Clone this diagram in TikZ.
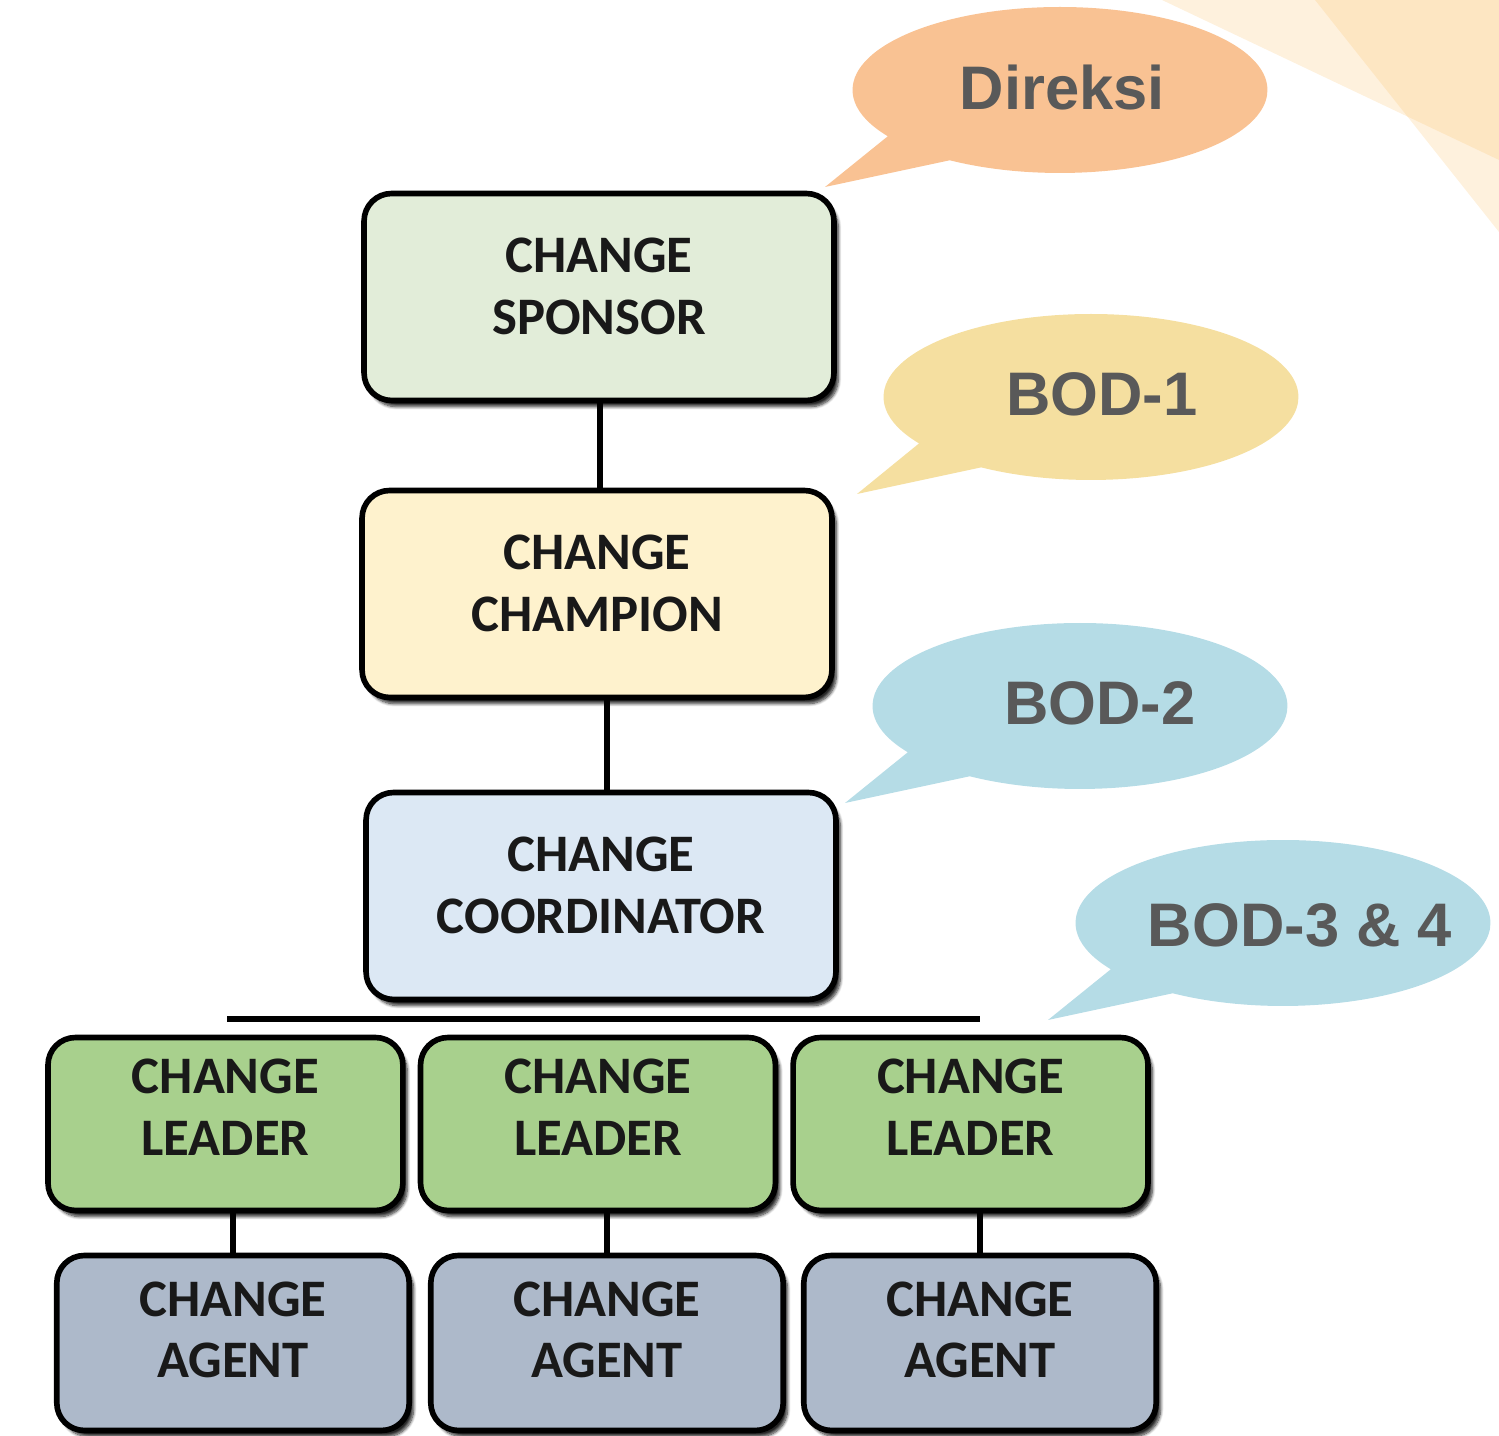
\documentclass[tikz,border=0pt]{standalone}
\usepackage{fontspec}
\usepackage{xcolor}
\usepackage{tikz}
\usetikzlibrary{positioning,shapes.callouts,shadows.blur}

\newfontfamily\boxfont{Carlito}
\newfontfamily\bubfont{Liberation Sans}

\definecolor{sponsorfill}{HTML}{E2EDD9}
\definecolor{championfill}{HTML}{FEF2CD}
\definecolor{coordfill}{HTML}{DCE8F4}
\definecolor{leaderfill}{HTML}{A8D08D}
\definecolor{agentfill}{HTML}{ADB9CA}
\definecolor{peach}{HTML}{F9C293}
\definecolor{sand}{HTML}{F5DFA0}
\definecolor{sky}{HTML}{B5DCE6}
\definecolor{bubtext}{HTML}{595959}
\definecolor{sunray}{RGB}{250,190,100}

\begin{document}
\begin{tikzpicture}[
  x=0.02cm, y=0.02cm,
  box/.style={
     rectangle, rounded corners=0.55cm,
     draw=black, line width=3.2pt,
     font=\boxfont\bfseries\fontsize{30}{35}\selectfont,
     text=black!90, align=center, inner sep=0pt,
     blur shadow={shadow xshift=2.5pt, shadow yshift=-3.5pt,
                  shadow blur steps=8, shadow opacity=85}},
  bigbox/.style={box, minimum width=9.4cm, minimum height=4.14cm,
     text depth=0.44cm},
  leadbox/.style={box, fill=leaderfill, minimum width=7.1cm,
     minimum height=3.46cm, text depth=0.68cm},
  agentbox/.style={box, fill=agentfill, minimum width=7.05cm,
     minimum height=3.5cm, text depth=0.54cm},
  bubble/.style={
     ellipse callout, inner sep=0pt,
     minimum width=8.3cm, minimum height=3.32cm,
     callout pointer arc=24},
  bubtxt/.style={text=bubtext, inner sep=0pt,
     font=\bubfont\bfseries\fontsize{35}{40}\selectfont},
  link/.style={line width=3pt},
  node distance=1.76cm and 0.24cm]
\useasboundingbox (0,0) rectangle (1499,1436);
% rays in the corner
\fill[sunray, opacity=0.22] (1162,1436) -- (1499,1436) -- (1499,1276) -- cycle;
\fill[sunray, opacity=0.22] (1315,1436) -- (1499,1436) -- (1499,1204) -- cycle;
% main column
\node[bigbox, fill=sponsorfill] (sponsor) at (599,1139) {CHANGE\\SPONSOR};
\node[bigbox, fill=championfill] (champion) at (597,842) {CHANGE\\CHAMPION};
\node[bigbox, fill=coordfill] (coord) at (601,540) {CHANGE\\COORDINATOR};
% leaders
\node[leadbox] (lead2) at (598,312) {CHANGE\\LEADER};
\node[leadbox,left=of lead2]  (lead1) {CHANGE\\LEADER};
\node[leadbox,right=of lead2] (lead3) {CHANGE\\LEADER};
% agents
\node[agentbox] (agent1) at (233,93) {CHANGE\\AGENT};
\node[agentbox] (agent2) at (607,93) {CHANGE\\AGENT};
\node[agentbox] (agent3) at (980,93) {CHANGE\\AGENT};
% bus line
\coordinate (busL) at (227,417);
\coordinate (busR) at (980,417);
% links
\draw[link] (sponsor.south -| 600,0) -- (champion.north -| 600,0);
\draw[link] (champion.south -| 607,0) -- (coord.north -| 607,0);
\draw[link] (busL) -- (busR);
\draw[link] (agent1.north |- lead1.south) -- (agent1.north);
\draw[link] (agent2.north |- lead2.south) -- (agent2.north);
\draw[link] (agent3.north |- lead3.south) -- (agent3.north);
% callouts
\node[bubble, fill=peach, callout absolute pointer={(825,1249)},
  label={[bubtxt,xshift=0.05cm,yshift=0.05cm]center:Direksi}]
  (direksi) at (1060,1346) {};
\node[bubble, fill=sand, callout absolute pointer={(857,942)},
  label={[bubtxt,xshift=0.22cm,yshift=0.06cm]center:BOD-1}]
  (bod1) at (1091,1039) {};
\node[bubble, fill=sky, callout absolute pointer={(845,633)},
  label={[bubtxt,xshift=0.4cm,yshift=0.06cm]center:BOD-2}]
  (bod2) at (1080,730) {};
\node[bubble, fill=sky, callout absolute pointer={(1048,416)},
  label={[bubtxt,xshift=0.34cm,yshift=-0.04cm]center:BOD-3 \& 4}]
  (bod3) at (1283,513) {};
\end{tikzpicture}
\end{document}
